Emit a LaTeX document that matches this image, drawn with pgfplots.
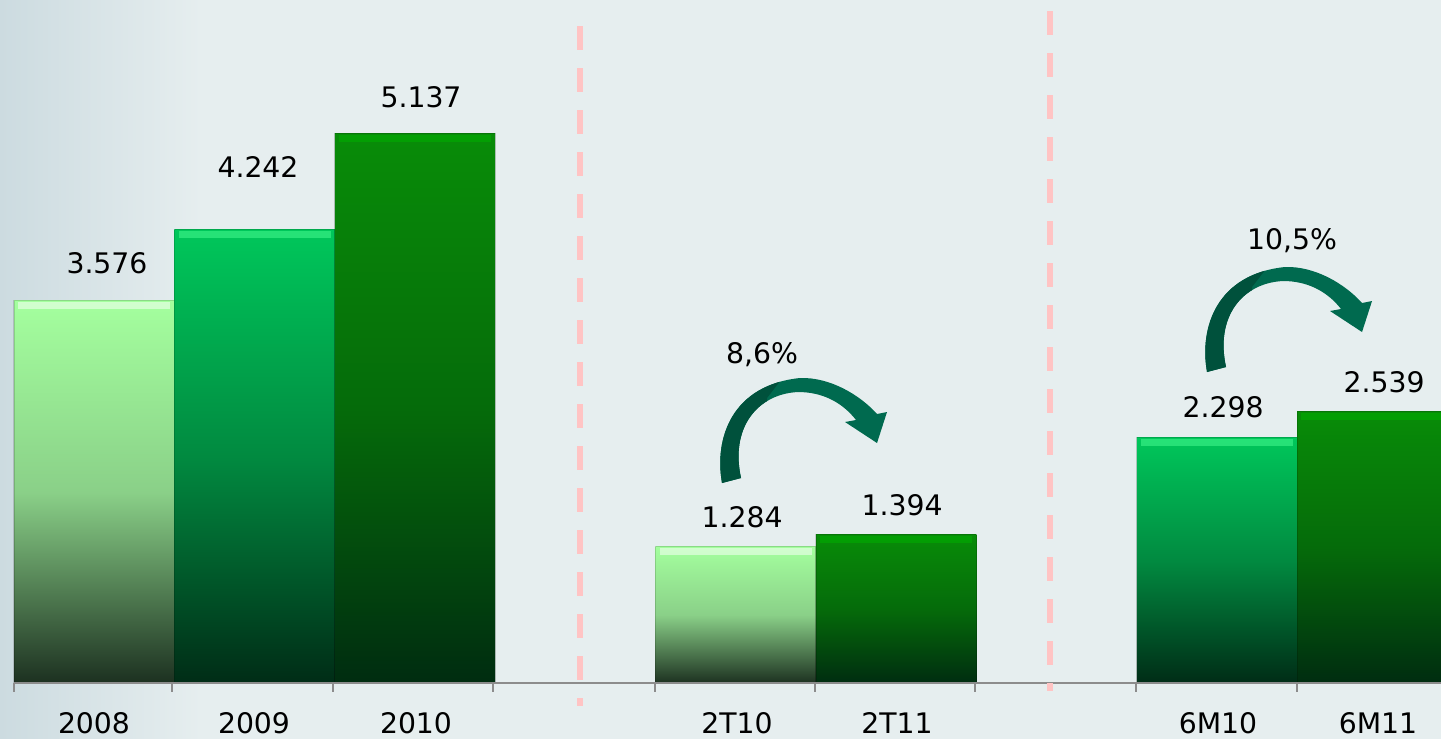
\documentclass[border=0pt]{standalone}
\usepackage{fontspec}
\setmainfont{DejaVu Sans}
\usepackage{pgfplots}
\pgfplotsset{compat=1.18}

\definecolor{bg}{HTML}{E6EEEF}
\definecolor{bgleft}{HTML}{CCDBE0}
\definecolor{lighttop}{HTML}{A4FF9E}
\definecolor{lightmid}{HTML}{8AD088}
\definecolor{lightbot}{HTML}{1C3020}
\definecolor{midtop}{HTML}{00C75B}
\definecolor{midmid}{HTML}{018A40}
\definecolor{midbot}{HTML}{002C16}
\definecolor{darktop}{HTML}{088C08}
\definecolor{darkmid}{HTML}{056B0A}
\definecolor{darkbot}{HTML}{002C10}
\definecolor{arrowlight}{HTML}{006A4F}
\definecolor{arrowdark}{HTML}{00513C}
\definecolor{sep}{HTML}{FFC4C4}
\definecolor{axisgray}{HTML}{8C8C8C}

% the path box is mapped onto 25bp..75bp of the shading
\pgfdeclarehorizontalshading{bgshade}{100bp}{color(0bp)=(bgleft); color(25bp)=(bgleft); color(32bp)=(bg); color(100bp)=(bg)}

\pgfplotsset{
  barbase/.style={ybar, bar width=1, bar shift=0pt, draw=black, draw opacity=0.15, line width=0.3pt},
  lightbar/.style={barbase, top color=lighttop, bottom color=lightbot, middle color=lightmid},
  midbar/.style={barbase, top color=midtop, bottom color=midbot, middle color=midmid},
  darkbar/.style={barbase, top color=darktop, bottom color=darkbot, middle color=darkmid},
  bevel/.style={only marks, mark=-, mark size=7.6mm,
    mark options={line width=0.7mm, draw=#1, opacity=0.5, yshift=-0.5mm}},
}

% curved arrow, pixel offsets from the tail's outer corner
\def\arrowpath{(0,0) .. controls (-8,-45) and (10,-98) .. (78,-105)
  .. controls (108,-106) and (138,-88) .. (155,-69) -- (165,-71) -- (155,-40)
  -- (123,-61) -- (134,-63) .. controls (120,-81) and (100,-91) .. (76,-91)
  .. controls (35,-89) and (8,-55) .. (19,-5) -- cycle}
\newcommand{\growtharrow}[2]{%
  \begin{scope}[shift={(#1,#2)}]
    \fill[arrowlight] \arrowpath;
    \begin{scope}
      \clip \arrowpath;
      \fill[arrowdark] (-20,10) -- (-20,-120) -- (72,-120) -- (45,-85) -- (45,10) -- cycle;
    \end{scope}
  \end{scope}}

\begin{document}
\begin{tikzpicture}
\begin{axis}[
    scale only axis,
    width=144.1mm, height=73.8mm,
    xmin=-0.0873, xmax=8.8965,
    ymin=-0.509, ymax=6.388,
    axis lines=none,
    axis background/.style={shading=bgshade},
]
% one plot per bar so that each bar gets its own gradient
\addplot[lightbar] coordinates {(0.5,3.576)};
\addplot[midbar]   coordinates {(1.5,4.242)};
\addplot[darkbar]  coordinates {(2.5,5.137)};
\addplot[lightbar] coordinates {(4.5,1.284)};
\addplot[darkbar]  coordinates {(5.5,1.394)};
\addplot[midbar]   coordinates {(7.5,2.298)};
\addplot[darkbar]  coordinates {(8.5,2.539)};

% bevel highlight along the bar tops
\addplot[bevel=white] coordinates {(0.5,3.576) (4.5,1.284)};
\addplot[bevel={green!60!cyan!70}] coordinates {(1.5,4.242) (7.5,2.298)};
\addplot[bevel={green!70!black}] coordinates {(2.5,5.137) (5.5,1.394) (8.5,2.539)};
\end{axis}

\begin{scope}[shift={(0,73.8mm)}, x=0.1mm, y=-0.1mm,
    every node/.style={font=\fontsize{8.05}{10}\selectfont, anchor=base, inner sep=0pt}]
  % axis line and ticks
  \draw[axisgray, line width=0.2mm] (14,683) -- (1441,683);
  \foreach \t in {14,172,333,493,655,815,975,1136,1297}
    \draw[axisgray, line width=0.2mm] (\t,683) -- (\t,692);
  % separators
  \draw[sep, line width=0.6mm, dash pattern=on 2.4mm off 1.8mm] (580,26) -- (580,706);
  \draw[sep, line width=0.6mm, dash pattern=on 2.4mm off 1.8mm] (1050,11) -- (1050,691);
  % value labels
  \node at (107,273) {3.576};
  \node at (258,177) {4.242};
  \node at (421,107) {5.137};
  \node at (742,527) {1.284};
  \node at (902,515) {1.394};
  \node at (1223,417) {2.298};
  \node at (1384,392) {2.539};
  % category labels
  \node at (94,733) {2008};
  \node at (254,733) {2009};
  \node at (416,733) {2010};
  \node at (737,733) {2T10};
  \node at (897,733) {2T11};
  \node at (1218,733) {6M10};
  \node at (1378,733) {6M11};
  % growth arrows
  \growtharrow{722}{483}
  \growtharrow{1207}{372}
  \node at (762,363) {8,6\%};
  \node at (1292,249) {10,5\%};
\end{scope}
\pgfresetboundingbox
\path (0,0) rectangle (144.1mm,73.8mm);
\end{tikzpicture}
\end{document}
